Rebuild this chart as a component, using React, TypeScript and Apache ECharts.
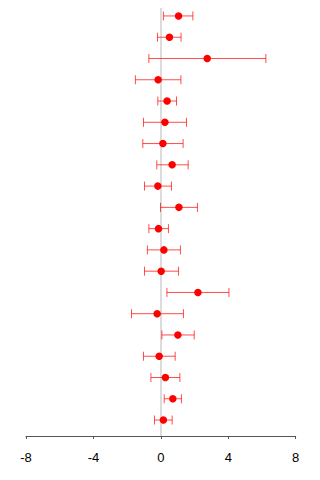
import React, { useEffect, useRef } from "react";
import * as echarts from "echarts";

// One row per study, listed top to bottom
const estimates = [1.05, 0.51, 2.75, -0.16, 0.37, 0.24, 0.12, 0.67, -0.18, 1.07, -0.14, 0.18, 0.02, 2.2, -0.22, 1.01, -0.1, 0.27, 0.71, 0.15];
const lowers = [0.15, -0.2, -0.71, -1.51, -0.18, -1.03, -1.07, -0.24, -0.97, -0.02, -0.71, -0.8, -0.97, 0.36, -1.74, 0.06, -1.03, -0.59, 0.2, -0.38];
const uppers = [1.9, 1.2, 6.23, 1.19, 0.93, 1.52, 1.32, 1.62, 0.63, 2.17, 0.45, 1.16, 1.05, 4.04, 1.34, 1.98, 0.85, 1.13, 1.22, 0.67];
const xTicks = [-8, -4, 0, 4, 8];

const n = estimates.length;
// row index counted from the bottom so that the first study sits at the top
const rowPos = (i: number) => n - i;

export default function App() {
  const ref = useRef<HTMLDivElement>(null);

  useEffect(() => {
    if (!ref.current) return;
    const chart = echarts.init(ref.current, null, { renderer: "svg" });

    const barData = estimates.map((_, i) => [lowers[i], uppers[i], rowPos(i)]);
    const pointData = estimates.map((v, i) => [v, rowPos(i)]);

    chart.setOption({
      animation: false,
      grid: { left: 26, right: 24.3, top: 0, bottom: 44 },
      xAxis: {
        type: "value",
        min: xTicks[0],
        max: xTicks[xTicks.length - 1],
        interval: 4,
        splitLine: { show: false },
        axisLine: { show: true, onZero: false, lineStyle: { color: "#555", width: 1 } },
        axisTick: { show: true, length: 3, lineStyle: { color: "#555" } },
        axisLabel: {
          color: "#000",
          fontSize: 13,
          fontFamily: "Liberation Sans, Arial, sans-serif",
          margin: 15,
        },
      },
      yAxis: {
        type: "value",
        min: 0.25,
        max: n + 0.75,
        show: false,
        splitLine: { show: false },
      },
      series: [
        {
          type: "custom",
          silent: true,
          data: barData,
          encode: { x: [0, 1], y: 2 },
          renderItem: (params: any, api: any) => {
            const lo = api.coord([api.value(0), api.value(2)]);
            const hi = api.coord([api.value(1), api.value(2)]);
            const h = 4.5;
            const style = { stroke: "rgba(255,0,0,0.7)", lineWidth: 1, fill: "none" };
            return {
              type: "group",
              children: [
                { type: "line", shape: { x1: lo[0], y1: lo[1], x2: hi[0], y2: hi[1] }, style },
                { type: "line", shape: { x1: lo[0], y1: lo[1] - h, x2: lo[0], y2: lo[1] + h }, style },
                { type: "line", shape: { x1: hi[0], y1: hi[1] - h, x2: hi[0], y2: hi[1] + h }, style },
              ],
            };
          },
          markLine: {
            silent: true,
            symbol: "none",
            label: { show: false },
            lineStyle: { color: "#dcdcdc", width: 2, type: "solid" },
            data: [{ xAxis: 0 }],
            z: 0,
          },
          z: 2,
        },
        {
          type: "scatter",
          data: pointData,
          symbol: "circle",
          symbolSize: 7.5,
          itemStyle: { color: "#ff0000", opacity: 1 },
          silent: true,
          z: 3,
        },
      ],
    });

    return () => chart.dispose();
  }, []);

  return <div ref={ref} style={{ width: 320, height: 480, margin: -8 }} />;
}
